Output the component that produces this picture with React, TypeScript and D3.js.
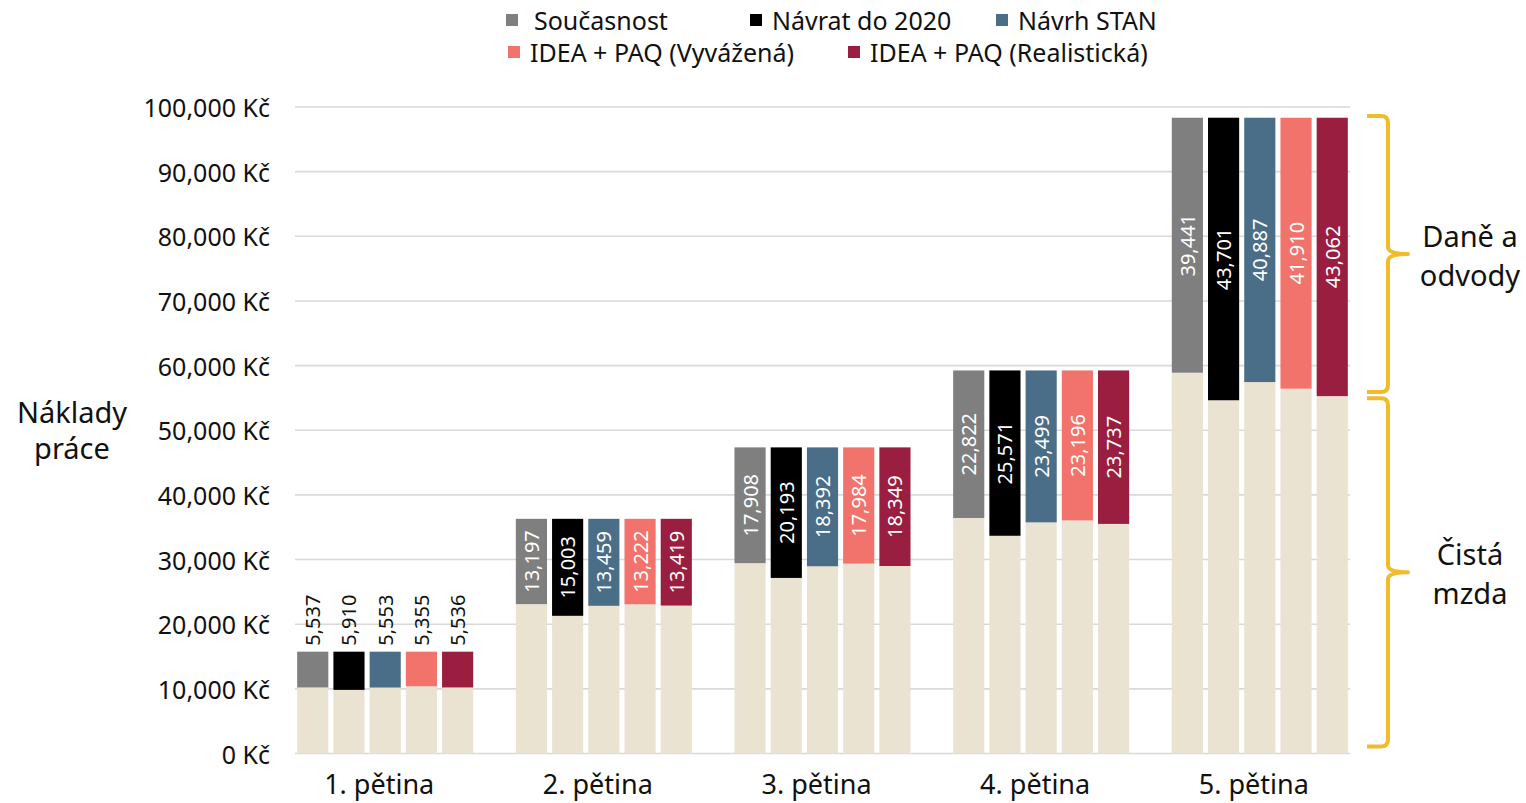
import React from "react";
import * as d3 from "d3";

// chart values
const groups = ["1. pětina", "2. pětina", "3. pětina", "4. pětina", "5. pětina"];
const series = [
  "Současnost",
  "Návrat do 2020",
  "Návrh STAN",
  "IDEA + PAQ (Vyvážená)",
  "IDEA + PAQ (Realistická)",
];
// total labour cost per quintile (same for all scenarios)
const laborCost = [15750, 36300, 47350, 59250, 98340];
// taxes and contributions per quintile, one row per scenario
const taxes = [
  [5537, 13197, 17908, 22822, 39441],
  [5910, 15003, 20193, 25571, 43701],
  [5553, 13459, 18392, 23499, 40887],
  [5355, 13222, 17984, 23196, 41910],
  [5536, 13419, 18349, 23737, 43062],
];
const yTicks = [0, 10000, 20000, 30000, 40000, 50000, 60000, 70000, 80000, 90000, 100000];
const braces = [
  { from: 55900, to: 98600, lines: ["Daně a", "odvody"] },
  { from: 1100, to: 54950, lines: ["Čistá", "mzda"] },
];

const colors = ["#7f7f7f", "#000000", "#4a6e88", "#f1736b", "#991e3f"];
const netColor = "#ebe3d2";
const braceColor = "#f0bc2c";
const font = "'Noto Sans', 'Open Sans', sans-serif";

const W = 1526;
const H = 803;
const margin = { top: 107, right: 176, bottom: 50, left: 295 };

// legend layout (x of the square, row centre)
const legendPos = [
  { x: 506, y: 20 },
  { x: 750, y: 20 },
  { x: 996, y: 20 },
  { x: 508, y: 52 },
  { x: 848, y: 52 },
];

const fmt = d3.format(",");

const App = () => {
  const x0 = d3
    .scaleBand()
    .domain(groups)
    .range([margin.left, W - margin.right])
    .paddingInner(0.195)
    .paddingOuter(0.01);
  const x1 = d3
    .scaleBand()
    .domain(series)
    .range([0, x0.bandwidth()])
    .paddingInner(0.14);
  const y = d3
    .scaleLinear()
    .domain([0, 100000])
    .range([H - margin.bottom + 0.5, margin.top]);

  const braceX = 1388;
  const bracePath = (y1, y2) => {
    const ym = (y1 + y2) / 2;
    const tip = braceX - 21;
    const pt = braceX + 20;
    const r = 7;
    return `M${tip},${y1} L${braceX - r},${y1} Q${braceX},${y1} ${braceX},${y1 + r}
      L${braceX},${ym - r} Q${braceX},${ym} ${pt},${ym} Q${braceX},${ym} ${braceX},${ym + r}
      L${braceX},${y2 - r} Q${braceX},${y2} ${braceX - r},${y2} L${tip},${y2}`;
  };

  return (
    <svg width={W} height={H} style={{ display: "block", position: "absolute", left: 0, top: 0 }} fontFamily={font}>
      <rect width={W} height={H} fill="#fff" />

      {/* gridlines + y labels */}
      {yTicks.map((t) => (
        <g key={t}>
          <line x1={margin.left} x2={W - margin.right} y1={y(t)} y2={y(t)} stroke="#d9d9d9" strokeWidth={1.6} />
          <text x={270} y={y(t)} textAnchor="end" dominantBaseline="central" fontSize={25} fill="#111">
            {fmt(t)} Kč
          </text>
        </g>
      ))}

      {/* bars */}
      {groups.map((g, gi) => (
        <g key={g} transform={`translate(${x0(g)},0)`}>
          {series.map((s, si) => {
            const tax = taxes[si][gi];
            const total = laborCost[gi];
            const net = total - tax;
            const bx = x1(s);
            const bw = x1.bandwidth();
            const cx = bx + bw / 2;
            const inside = gi > 0;
            const ly = inside ? (y(total) + y(net)) / 2 : y(total) - 6;
            return (
              <g key={s}>
                <rect x={bx} width={bw} y={y(net)} height={y(0) - y(net)} fill={netColor} />
                <rect x={bx} width={bw} y={y(total)} height={y(net) - y(total)} fill={colors[si]} />
                <text
                  transform={`translate(${cx},${ly}) rotate(-90)`}
                  textAnchor={inside ? "middle" : "start"}
                  dominantBaseline="central"
                  fontSize={20}
                  fill={inside ? "#fff" : "#111"}
                >
                  {fmt(tax)}
                </text>
              </g>
            );
          })}
          <text x={x0.bandwidth() / 2 - 6} y={794} textAnchor="middle" fontSize={27} fill="#111">
            {g}
          </text>
        </g>
      ))}

      {/* y title */}
      <text x={72} y={411} textAnchor="middle" dominantBaseline="central" fontSize={29} fill="#111">
        Náklady
      </text>
      <text x={72} y={447} textAnchor="middle" dominantBaseline="central" fontSize={29} fill="#111">
        práce
      </text>

      {/* legend */}
      {series.map((s, i) => (
        <g key={s} transform={`translate(${legendPos[i].x},${legendPos[i].y})`}>
          <rect x={0} y={-6} width={12} height={12} fill={colors[i]} />
          <text x={i === 0 ? 28 : 22} y={0} dominantBaseline="central" fontSize={25} fill="#111">
            {s}
          </text>
        </g>
      ))}

      {/* braces */}
      {braces.map((b) => {
        const y1 = y(b.to);
        const y2 = y(b.from);
        const ym = (y1 + y2) / 2;
        return (
          <g key={b.lines[0]}>
            <path d={bracePath(y1, y2)} fill="none" stroke={braceColor} strokeWidth={4} strokeLinejoin="round" />
            {b.lines.map((l, li) => (
              <text
                key={l}
                x={1470}
                y={ym - 19 + li * 39}
                textAnchor="middle"
                dominantBaseline="central"
                fontSize={29}
                fill="#111"
              >
                {l}
              </text>
            ))}
          </g>
        );
      })}
    </svg>
  );
};

export default App;
